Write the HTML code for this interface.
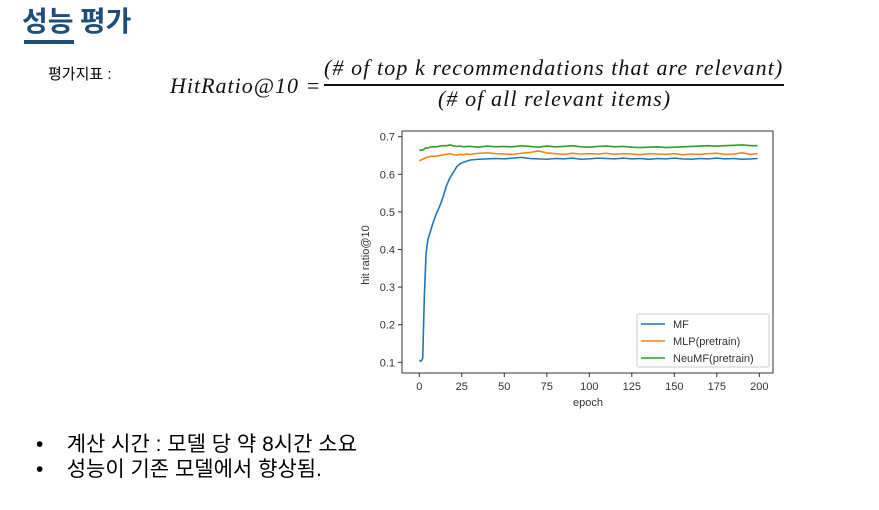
<!DOCTYPE html>
<html><head><meta charset="utf-8"><style>
body{margin:0;width:879px;height:510px;background:#fff;position:relative;overflow:hidden;font-family:"Liberation Sans","Noto Sans CJK KR",sans-serif}
.abs{position:absolute}
</style></head><body>
<div class="abs" style="left:22px;top:0px;font-size:28px;font-weight:bold;color:#1f4e79;font-family:'Noto Sans CJK KR',sans-serif">성능 평가</div>
<div class="abs" style="left:24px;top:40px;width:50px;height:4px;background:#1f4e79"></div>
<div class="abs" style="left:48px;top:63px;font-size:15px">평가지표 :</div>
<div class="abs" style="left:170px;top:55px;font-family:'Liberation Serif',serif;font-style:italic;font-size:22px;letter-spacing:1.1px;color:#111">
<span style="position:absolute;left:0;top:18px;white-space:nowrap;letter-spacing:1px">HitRatio@10 =</span>
<span style="position:absolute;left:154px;top:0;white-space:nowrap">(# of top k recommendations that are relevant)</span>
<span style="position:absolute;left:154px;top:29px;width:460px;height:1.5px;background:#111"></span>
<span style="position:absolute;left:268px;top:31px;white-space:nowrap">(# of all relevant items)</span>
</div>
<svg class="abs" style="left:0;top:0" width="879" height="510" id="chart"></svg>
<div class="abs" style="left:36px;top:432px;font-size:21px;line-height:25px">
<div>•&nbsp;&nbsp;&nbsp;&nbsp;계산 시간 : 모델 당 약 8시간 소요</div>
<div>•&nbsp;&nbsp;&nbsp;&nbsp;성능이 기존 모델에서 향상됨.</div>
</div>
<script>
const epochs=[0,1,2,3,4,5,6,8,10,12,14,16,18,20,22,24,26,28,30,35,40,45,50,55,60,65,70,75,80,85,90,95,100,105,110,115,120,125,130,135,140,145,150,155,160,165,170,175,180,185,190,195,199];
const mfValues=[0.105,0.103,0.11,0.28,0.39,0.425,0.44,0.47,0.495,0.515,0.54,0.57,0.59,0.605,0.62,0.628,0.632,0.635,0.638,0.64,0.641,0.642,0.641,0.643,0.645,0.642,0.641,0.64,0.642,0.641,0.643,0.64,0.641,0.643,0.642,0.641,0.643,0.641,0.642,0.64,0.642,0.641,0.643,0.641,0.64,0.642,0.641,0.643,0.641,0.642,0.64,0.641,0.642];
const mlpValues=[0.636,0.638,0.64,0.642,0.645,0.645,0.647,0.648,0.648,0.65,0.652,0.653,0.655,0.652,0.651,0.653,0.652,0.654,0.653,0.656,0.657,0.655,0.654,0.653,0.656,0.658,0.662,0.657,0.655,0.653,0.656,0.654,0.655,0.654,0.656,0.653,0.655,0.654,0.652,0.655,0.654,0.653,0.655,0.652,0.654,0.653,0.655,0.656,0.653,0.654,0.657,0.653,0.655];
const neumfValues=[0.663,0.665,0.664,0.668,0.67,0.67,0.672,0.673,0.673,0.675,0.676,0.676,0.678,0.676,0.674,0.675,0.673,0.674,0.674,0.672,0.675,0.673,0.674,0.673,0.676,0.674,0.672,0.675,0.673,0.674,0.676,0.673,0.672,0.674,0.675,0.673,0.674,0.672,0.671,0.672,0.673,0.671,0.672,0.673,0.674,0.675,0.676,0.675,0.676,0.677,0.678,0.676,0.676];
const xTicks=[0,25,50,75,100,125,150,175,200];
const yTicks=[0.1,0.2,0.3,0.4,0.5,0.6,0.7];
const seriesNames=["MF","MLP(pretrain)","NeuMF(pretrain)"];
const ns="http://www.w3.org/2000/svg",svg=document.getElementById('chart');
const X=e=>419.3+e*1.7, Y=v=>362.3-(v-0.1)*376;
function mk(t,a,p){const el=document.createElementNS(ns,t);for(const k in a)el.setAttribute(k,a[k]);(p||svg).appendChild(el);return el;}
let frame=mk('rect',{x:402,y:131,width:371,height:242,fill:'none',stroke:'#333','stroke-width':1});


xTicks.forEach(t=>{mk('line',{x1:X(t),x2:X(t),y1:373,y2:377,stroke:'#333'});
const tx=mk('text',{x:X(t),y:390,'font-size':11,'text-anchor':'middle',fill:'#333'});tx.textContent=t;

});
yTicks.forEach(t=>{mk('line',{x1:398,x2:402,y1:Y(t),y2:Y(t),stroke:'#333'});
const tx=mk('text',{x:395,y:Y(t)+4,'font-size':11,'text-anchor':'end',fill:'#333'});tx.textContent=t.toFixed(1);

});
let xl=mk('text',{x:588,y:406,'font-size':11,'text-anchor':'middle',fill:'#333'});xl.textContent='epoch';


let yl=mk('text',{x:369,y:255,'font-size':11,'text-anchor':'middle',fill:'#333',transform:'rotate(-90 369 255)'});yl.textContent='hit ratio@10';


const colors=['#1f77b4','#ff7f0e','#2ca02c'];
[mfValues,mlpValues,neumfValues].forEach((vals,i)=>{
const p=mk('polyline',{points:vals.map((v,j)=>X(epochs[j])+','+Y(v)).join(' '),fill:'none',stroke:colors[i],'stroke-width':1.6});

});
const lg=mk('rect',{x:637,y:314,width:132,height:53,fill:'#fff',stroke:'#ccc',rx:2});


seriesNames.forEach((n,i)=>{const y=324+i*17;
mk('line',{x1:641,x2:665,y1:y,y2:y,stroke:colors[i],'stroke-width':1.6});
const t=mk('text',{x:673,y:y+4,'font-size':11,fill:'#333'});t.textContent=n;

});
</script>
</body></html>
